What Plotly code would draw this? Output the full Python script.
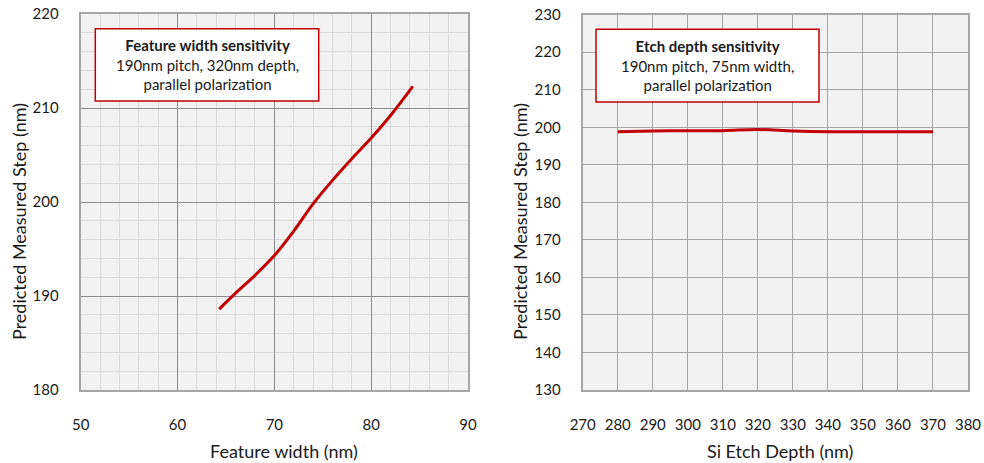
import plotly.graph_objects as go

# Data
feature_width = [64.3, 66, 68, 70, 72, 74, 76, 78, 80, 82, 84.3]
step_width = [188.6, 190.3, 192.2, 194.3, 196.9, 199.8, 202.3, 204.6, 206.8, 209.2, 212.3]

etch_depth = [280, 290, 300, 310, 320, 330, 340, 350, 360, 370]
step_depth = [198.8, 199.0, 199.1, 199.1, 199.4, 199.0, 198.8, 198.8, 198.8, 198.8]

W, H = 984, 463
FONT = "Lato, Carlito, Calibri, sans-serif"
TXT = "#1a1a1a"

def px(x):
    return x / W

def py(y):
    return 1 - y / H

fig = go.Figure()
fig.add_trace(go.Scatter(x=feature_width, y=step_width, mode="lines", line=dict(color="#c00000", width=3, shape="spline"),
                         xaxis="x", yaxis="y", showlegend=False, hoverinfo="skip"))
fig.add_trace(go.Scatter(x=etch_depth, y=step_depth, mode="lines", line=dict(color="#c00000", width=3, shape="spline"),
                         xaxis="x2", yaxis="y2", showlegend=False, hoverinfo="skip"))

tickfont = dict(family=FONT, size=15, color=TXT)
common = dict(showline=True, linecolor="#a6a6a6", linewidth=2, mirror=True, zeroline=False,
              ticks="", tickfont=tickfont, fixedrange=True, automargin=False)

fig.update_layout(
    width=W, height=H, autosize=False,
    margin=dict(l=0, r=0, t=0, b=0, autoexpand=False),
    paper_bgcolor="white", plot_bgcolor="#f2f2f2",
    xaxis=dict(domain=[px(80.7), px(468)], range=[50, 90], dtick=10, tick0=50,
               gridcolor="#8c8c8c", gridwidth=1,
               minor=dict(dtick=2, showgrid=True, gridcolor="#d9d9d9", gridwidth=1),
               ticklabelstandoff=20, anchor="y", **common),
    yaxis=dict(domain=[py(390), py(14)], range=[180, 220], dtick=10, tick0=180,
               gridcolor="#8c8c8c", gridwidth=1,
               minor=dict(dtick=2, showgrid=True, gridcolor="#d9d9d9", gridwidth=1),
               ticklabelstandoff=17, anchor="x", **common),
    xaxis2=dict(domain=[px(582.7), px(968)], range=[270, 380], dtick=10, tick0=270,
                gridcolor="#a6a6a6", gridwidth=1, ticklabelstandoff=20, anchor="y2", **common),
    yaxis2=dict(domain=[py(390), py(14.7)], range=[130, 230], dtick=10, tick0=130,
                gridcolor="#a6a6a6", gridwidth=1, ticklabelstandoff=17, anchor="x2", **common),
)

title_font = dict(family=FONT, size=18, color=TXT)
annos = [
    dict(text="Feature width (nm)", x=px(283.7), y=py(451), xref="paper", yref="paper",
         showarrow=False, font=title_font, xanchor="center", yanchor="middle"),
    dict(text="Si Etch Depth (nm)", x=px(779.7), y=py(451), xref="paper", yref="paper",
         showarrow=False, font=title_font, xanchor="center", yanchor="middle"),
    dict(text="Predicted Measured Step (nm)", x=px(19), y=py(222), xref="paper", yref="paper",
         showarrow=False, font=title_font, textangle=-90, xanchor="center", yanchor="middle"),
    dict(text="Predicted Measured Step (nm)", x=px(520), y=py(222), xref="paper", yref="paper",
         showarrow=False, font=title_font, textangle=-90, xanchor="center", yanchor="middle"),
]

boxes = [
    ((95.3, 28.7, 318.7, 101), "<b>Feature width sensitivity</b><br>190nm pitch, 320nm depth,<br>parallel polarization"),
    ((596, 29.3, 819, 102), "<b>Etch depth sensitivity</b><br>190nm pitch, 75nm width,<br>parallel polarization"),
]
shapes = []
for (x0, y0, x1, y1), txt in boxes:
    shapes.append(dict(type="rect", xref="paper", yref="paper", x0=px(x0), x1=px(x1), y0=py(y1), y1=py(y0),
                       fillcolor="white", line=dict(color="#c00000", width=1.5), layer="above"))
    annos.append(dict(text=txt, x=px((x0 + x1) / 2), y=py((y0 + y1) / 2), xref="paper", yref="paper",
                      showarrow=False, align="center", xanchor="center", yanchor="middle",
                      font=dict(family=FONT, size=15, color=TXT)))

fig.update_layout(annotations=annos, shapes=shapes)
fig.write_html("out.html", config={"displayModeBar": False},
               post_script="document.body.style.margin='0';document.body.style.overflow='hidden';")
